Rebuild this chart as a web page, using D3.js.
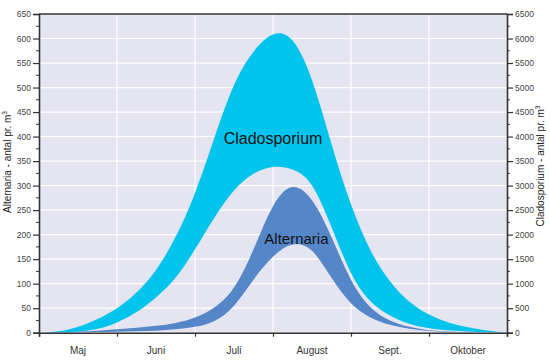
<!DOCTYPE html>
<html>
<head>
<meta charset="utf-8">
<script src="https://cdn.jsdelivr.net/npm/d3@7"></script>
<style>
  body { margin: 0; background: #fff; }
  svg text { font-family: "Liberation Sans", Arial, sans-serif; }
</style>
</head>
<body>
<div id="chart"></div>
<script>
var WIDTH = 550
var HEIGHT = 364
var margin = {top: 14, right: 43, bottom: 31.3, left: 39}

// month names, one per band between ticks
var months = ["Maj", "Juni", "Juli", "August", "Sept.", "Oktober"]

// position along the season, in months from 1 May
var season = [0, 0.25, 0.5, 0.75, 1, 1.25, 1.5, 1.75, 2, 2.25, 2.5, 2.75, 3,
  3.25, 3.5, 3.75, 4, 4.25, 4.5, 4.75, 5, 5.25, 5.5, 5.75, 6]

// Alternaria band (left axis, spores per m3)
var alternariaHigh = [0, 1, 2, 4, 7, 10, 14, 20, 31, 52, 92, 170, 258,
  297, 270, 195, 108, 52, 25, 12, 5, 2.5, 1, 0.4, 0]
var alternariaLow = [0, 0.3, 0.8, 1.5, 2, 3, 4, 7, 12, 24, 55, 108, 155,
  180, 167, 112, 60, 31, 16, 8, 3.5, 1.5, 0.6, 0.2, 0]

// Cladosporium band (right axis, spores per m3)
var cladoHigh = [0, 30, 120, 280, 500, 820, 1280, 1950, 2850, 3980, 5050, 5730, 6080,
  5960, 5150, 3850, 2620, 1680, 1050, 630, 370, 210, 110, 45, 0]
var cladoLow = [0, 5, 20, 80, 210, 420, 720, 1120, 1700, 2350, 2900, 3240, 3380,
  3330, 3000, 2150, 1220, 640, 350, 180, 90, 50, 25, 10, 0]

var leftTicks = d3.range(0, 651, 50)
var rightTicks = d3.range(0, 6501, 500)

var svg = d3.select("#chart").append("svg")
  .attr("width", WIDTH)
  .attr("height", HEIGHT)

var x = d3.scaleLinear().domain([0, 6]).range([margin.left, WIDTH - margin.right])
var yL = d3.scaleLinear().domain([0, 650]).range([HEIGHT - margin.bottom, margin.top])
var yR = d3.scaleLinear().domain([0, 6500]).range([HEIGHT - margin.bottom, margin.top])

// plot background
svg.append("rect")
  .attr("x", x(0)).attr("y", yL(650))
  .attr("width", x(6) - x(0)).attr("height", yL(0) - yL(650))
  .attr("fill", "#e5e5f1")

// white grid
svg.append("g").selectAll("line")
  .data(leftTicks.slice(1, -1))
  .enter().append("line")
  .attr("x1", x(0)).attr("x2", x(6))
  .attr("y1", function(d) { return yL(d) }).attr("y2", function(d) { return yL(d) })
  .attr("stroke", "#fff").attr("stroke-width", 1.2)

svg.append("g").selectAll("line")
  .data(d3.range(1, 6))
  .enter().append("line")
  .attr("x1", function(d) { return x(d) }).attr("x2", function(d) { return x(d) })
  .attr("y1", yL(0)).attr("y2", yL(650))
  .attr("stroke", "#fff").attr("stroke-width", 1.2)

var clado = season.map(function(m, i) { return {m: m, lo: cladoLow[i], hi: cladoHigh[i]} })
var alt = season.map(function(m, i) { return {m: m, lo: alternariaLow[i], hi: alternariaHigh[i]} })

// natural spline keeps the bands smooth through the read-off points
var cladoArea = d3.area()
  .curve(d3.curveNatural)
  .x(function(d) { return x(d.m) })
  .y0(function(d) { return yR(d.lo) })
  .y1(function(d) { return yR(d.hi) })

var altArea = d3.area()
  .curve(d3.curveNatural)
  .x(function(d) { return x(d.m) })
  .y0(function(d) { return yL(d.lo) })
  .y1(function(d) { return yL(d.hi) })

var plotClip = svg.append("clipPath").attr("id", "plot")
plotClip.append("rect")
  .attr("x", x(0)).attr("y", yL(650))
  .attr("width", x(6) - x(0)).attr("height", yL(0) - yL(650))

var bands = svg.append("g").attr("clip-path", "url(#plot)")
bands.append("path").datum(clado).attr("d", cladoArea).attr("fill", "#00c4ec")
bands.append("path").datum(alt).attr("d", altArea).attr("fill", "#5587c8")

// axes
var leftAxis = d3.axisLeft(yL).tickValues(leftTicks).tickSize(6).tickPadding(2)
var rightAxis = d3.axisRight(yR).tickValues(rightTicks).tickSize(6).tickPadding(2)
  .tickFormat(d3.format("d"))

function styleAxis(g) {
  g.select(".domain").attr("stroke", "#333").attr("stroke-width", 1.6)
  g.selectAll(".tick line").attr("stroke", "#333").attr("stroke-width", 1.2)
  g.selectAll(".tick text").attr("fill", "#444").style("font-size", "8.5px")
}

svg.append("g").attr("transform", "translate(" + x(0) + ",0)").call(leftAxis).call(styleAxis)
svg.append("g").attr("transform", "translate(" + x(6) + ",0)").call(rightAxis).call(styleAxis)

// minor ticks
svg.append("g").selectAll("line")
  .data(d3.range(25, 650, 50))
  .enter().append("line")
  .attr("x1", x(0) - 3).attr("x2", x(0))
  .attr("y1", function(d) { return yL(d) }).attr("y2", function(d) { return yL(d) })
  .attr("stroke", "#333")
svg.append("g").selectAll("line")
  .data(d3.range(250, 6500, 500))
  .enter().append("line")
  .attr("x1", x(6)).attr("x2", x(6) + 3)
  .attr("y1", function(d) { return yR(d) }).attr("y2", function(d) { return yR(d) })
  .attr("stroke", "#333")

// top frame and bottom axis
svg.append("line").attr("x1", x(0)).attr("x2", x(6)).attr("y1", yL(650)).attr("y2", yL(650))
  .attr("stroke", "#333").attr("stroke-width", 1.6)
var bottomAxis = d3.axisBottom(x).tickValues(d3.range(0, 7)).tickSize(4).tickFormat("")
svg.append("g").attr("transform", "translate(0," + yL(0) + ")").call(bottomAxis)
  .call(function(g) {
    g.select(".domain").attr("stroke", "#333").attr("stroke-width", 1.6)
    g.selectAll(".tick line").attr("stroke", "#333").attr("stroke-width", 1.2)
  })

svg.append("g").selectAll("text")
  .data(months)
  .enter().append("text")
  .attr("x", function(d, i) { return x(i + 0.5) })
  .attr("y", yL(0) + 21)
  .attr("text-anchor", "middle")
  .attr("fill", "#333")
  .style("font-size", "10px")
  .text(function(d) { return d })

// axis titles
svg.append("text")
  .attr("transform", "translate(11,162) rotate(-90)")
  .attr("text-anchor", "middle")
  .attr("fill", "#222")
  .style("font-size", "10px")
  .html("Alternaria - antal pr. m<tspan dy='-4' font-size='6.5px'>3</tspan>")
svg.append("text")
  .attr("transform", "translate(544,166) rotate(-90)")
  .attr("text-anchor", "middle")
  .attr("fill", "#222")
  .style("font-size", "10px")
  .html("Cladosporium - antal pr. m<tspan dy='-4' font-size='6.5px'>3</tspan>")

// series names
svg.append("text")
  .attr("x", x(3)).attr("y", yL(385))
  .attr("text-anchor", "middle")
  .attr("fill", "#111")
  .style("font-size", "16px")
  .text("Cladosporium")
svg.append("text")
  .attr("x", x(3.3)).attr("y", yL(180))
  .attr("text-anchor", "middle")
  .attr("fill", "#111")
  .style("font-size", "15px")
  .text("Alternaria")
</script>
</body>
</html>
